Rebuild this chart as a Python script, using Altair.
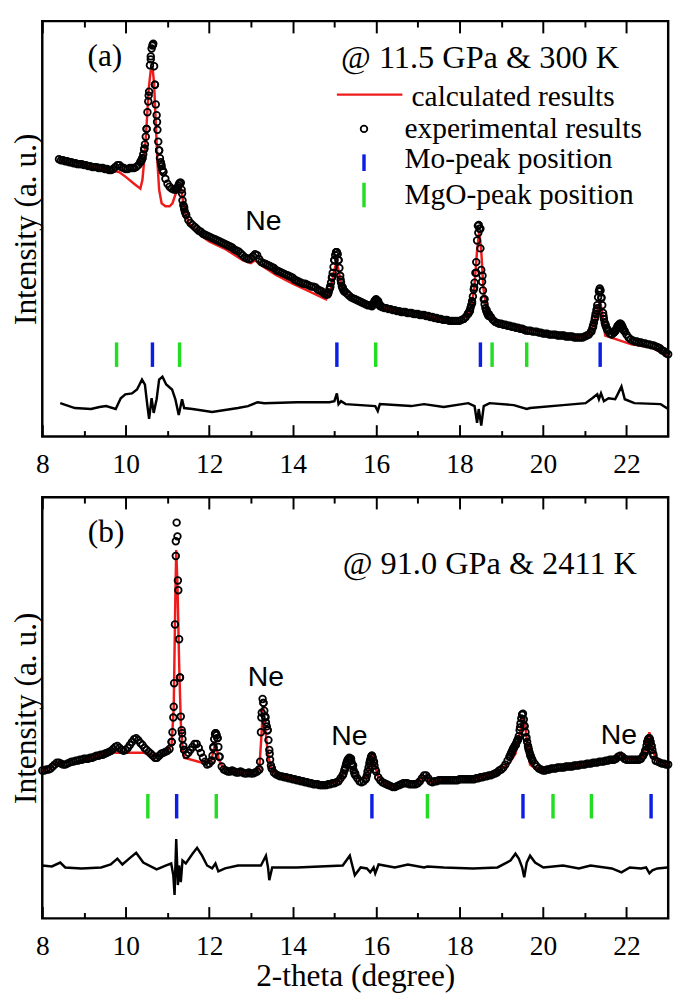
import altair as alt
import pandas as pd

SERIF = "Liberation Serif"
SANS = "Liberation Sans"
X_DOMAIN = [8, 23]
EVEN_TICKS = [8, 10, 12, 14, 16, 18, 20, 22]
ODD_TICKS = [9, 11, 13, 15, 17, 19, 21]
RED = "#ee1c1c"
BLUE = "#0a1ee6"
GREEN = "#22dd22"
BASE_STEP = 0.05
PEAK_STEP = 0.02

# ---------------- panel (a): 11.5 GPa & 300 K ----------------
A_EXP_START = 8.40
A_EXP = [
    283, 282, 282, 281, 281, 280, 280, 279, 279, 278, 278, 278,
    277, 277, 276, 276, 275, 275, 275, 274, 274, 274, 273, 273, 272, 272, 273, 275, 277, 277, 275, 274,
    273, 273, 274, 274, 274, 275, 277, 280, 284, 294, 314, 348, 385, 400, 359, 321, 292, 278, 270, 263,
    258, 255, 253, 252, 252, 254, 258, 248, 234, 226, 221, 218, 216, 214, 212, 210, 209, 207, 206, 205,
    204, 203, 202, 201, 200, 199, 198, 197, 196, 195, 194, 193, 191, 190, 189, 187, 185, 183, 182, 181,
    182, 184, 186, 185, 181, 178, 177, 176, 175, 174, 173, 172, 170, 169, 168, 167, 166, 165, 164, 163,
    162, 160, 159, 158, 157, 156, 156, 155, 154, 153, 153, 152, 150, 149, 148, 146, 145, 146, 152, 163,
    180, 188, 180, 160, 152, 148, 146, 144, 142, 141, 140, 139, 138, 137, 136, 135, 134, 134, 133, 136,
    139, 138, 134, 132, 131, 131, 130, 130, 129, 129, 128, 128, 127, 127, 127, 126, 126, 126, 125, 125,
    125, 124, 124, 124, 123, 123, 122, 122, 121, 121, 120, 120, 119, 119, 119, 118, 118, 118, 118, 118,
    118, 119, 120, 122, 125, 128, 136, 152, 167, 208, 212, 164, 140, 129, 125, 122, 119, 117, 116, 115,
    115, 114, 114, 113, 113, 112, 112, 111, 111, 110, 110, 109, 108, 108, 108, 107, 107, 107, 106, 106,
    105, 105, 105, 104, 104, 104, 104, 103, 103, 103, 103, 102, 102, 102, 102, 101, 101, 101, 101, 101,
    102, 103, 104, 107, 112, 122, 131, 149, 142, 123, 114, 109, 105, 104, 106, 109, 113, 114, 112, 108,
    104, 101, 99, 98, 97, 97, 96, 96, 95, 95, 94, 94, 93, 93, 92, 91, 90, 88, 87, 85,
    84,
]
A_PEAK_STARTS = [10.36, 11.20, 14.84, 15.92, 18.20, 21.16, 21.70]
A_PEAK_VALUES = [
    [281, 282, 284, 288, 293, 298, 306, 314, 331, 342, 352, 379, 388, 396, 399, 401,
     378, 359, 339, 328, 313, 301, 292, 284, 280, 276, 272, 270],
    [252, 253, 254, 256, 258, 259, 259, 252, 241, 236, 232, 229, 227],
    [145, 147, 150, 153, 157, 162, 167, 173, 180, 185, 188, 188, 186, 180, 172, 164,
     157, 153, 151, 149, 148],
    [134, 136, 138, 139, 140, 139, 138, 136, 134, 133],
    [125, 126, 128, 131, 134, 138, 143, 150, 157, 167, 178, 200, 215, 216, 212, 192,
     170, 158, 149, 140, 135, 131, 128, 126, 124, 123, 123],
    [107, 110, 113, 116, 120, 125, 129, 134, 142, 148, 151, 149, 141, 134, 126, 120,
     116, 113, 111, 109, 108],
    [106, 107, 108, 110, 112, 113, 114, 115, 115, 114, 112, 110, 108, 107],
]
A_CALC_X = [8.40, 8.80, 9.20, 9.60, 9.84, 10.00, 10.20, 10.35, 10.40, 10.45, 10.50, 10.55, 10.60,
            10.64, 10.68, 10.72, 10.76, 10.80, 10.86, 10.95, 11.05, 11.12, 11.19, 11.25, 11.30,
            11.34, 11.40, 11.50, 11.60, 11.80, 12.00, 12.40, 12.80, 13.00, 13.10, 13.20, 13.60,
            14.00, 14.40, 14.80, 14.90, 14.96, 15.00, 15.05, 15.10, 15.16, 15.25, 15.50, 15.90,
            16.00, 16.10, 16.50, 17.00, 17.50, 18.00, 18.20, 18.30, 18.36, 18.42, 18.47, 18.52,
            18.57, 18.65, 18.80, 19.20, 19.60, 20.00, 20.40, 20.80, 21.10, 21.22, 21.30, 21.37,
            21.44, 21.49, 22.12, 22.60, 23.00]
A_CALC_Y = [283, 279, 275, 272, 270, 265, 258, 253, 262, 285, 318, 355, 374,
            378, 360, 320, 280, 252, 238, 235, 235, 238, 247, 254, 257,
            250, 232, 219, 213, 205, 199, 191, 180, 177, 180, 176, 165,
            156, 148, 140, 148, 160, 170, 178, 170, 156, 147, 139, 133,
            138, 132, 128, 125, 120, 118, 124, 136, 155, 190, 209, 190,
            152, 130, 119, 113, 110, 107, 103, 101, 104, 114, 128, 138,
            120, 103, 94, 91, 82]
A_DIFF_X = [8.43, 8.78, 9.17, 9.37, 9.53, 9.76, 9.88, 9.99, 10.15, 10.27, 10.39, 10.46, 10.52,
            10.56, 10.62, 10.67, 10.74, 10.80, 10.88, 10.97, 11.11, 11.19, 11.27, 11.35, 11.40,
            11.60, 12.07, 12.69, 12.93, 13.16, 13.32, 14.10, 14.88, 15.00, 15.06, 15.10, 15.16,
            15.27, 15.98, 16.04, 16.09, 16.84, 17.15, 17.62, 18.21, 18.36, 18.42, 18.46, 18.52,
            18.58, 18.72, 19.30, 19.61, 19.69, 20.48, 21.02, 21.18, 21.30, 21.34, 21.39, 21.46,
            21.57, 21.73, 21.80, 21.88, 21.96, 22.19, 22.82, 23.00]
A_DIFF_Y = [34, 29, 28, 30, 31, 28, 39, 43, 44, 48, 58, 53, 31,
            18, 39, 24, 38, 58, 61, 53, 48, 38, 22, 38, 29,
            28, 25, 29, 31, 35, 34, 35, 35, 36, 44, 33, 36,
            33, 31, 26, 33, 31, 33, 30, 34, 31, 14, 28, 11,
            31, 34, 32, 28, 29, 32, 34, 39, 43, 38, 44, 36,
            39, 38, 44, 51, 38, 34, 33, 28]
A_MO = [10.64, 15.06, 18.50, 21.37]
A_MGO = [9.78, 11.29, 15.99, 18.78, 19.61]
A_MARK_LO, A_MARK_HI = 71, 96
A_Y_DOMAIN = [0, 424]

# ---------------- panel (b): 91.0 GPa & 2411 K ----------------
B_EXP_START = 8.00
B_EXP = [
    151, 151, 152, 152, 153, 155, 157, 159, 159, 158, 157, 157, 158, 159, 160, 160, 161, 161, 162, 162,
    163, 163, 163, 164, 164, 165, 166, 166, 167, 167, 168, 169, 170, 171, 173, 175, 176, 174, 172, 171,
    172, 174, 177, 180, 183, 184, 182, 179, 177, 174, 172, 170, 168, 166, 164, 164, 166, 168, 169, 170,
    171, 173, 180, 216, 385, 345, 246, 189, 172, 167, 169, 172, 175, 178, 178, 174, 169, 164, 160, 157,
    158, 161, 175, 189, 184, 165, 155, 152, 151, 150, 150, 151, 150, 149, 149, 150, 149, 148, 148, 149,
    148, 148, 149, 150, 152, 205, 220, 205, 192, 168, 153, 149, 147, 146, 145, 145, 144, 144, 143, 143,
    142, 142, 141, 141, 140, 140, 139, 139, 138, 138, 137, 137, 137, 136, 136, 136, 136, 137, 137, 138,
    138, 139, 140, 143, 146, 152, 159, 163, 163, 156, 148, 143, 140, 139, 140, 142, 150, 160, 166, 160,
    150, 144, 141, 139, 138, 137, 136, 135, 134, 134, 135, 136, 137, 138, 138, 138, 137, 137, 137, 137,
    138, 140, 143, 146, 146, 143, 140, 139, 140, 140, 141, 141, 141, 141, 141, 141, 141, 141, 141, 141,
    142, 142, 142, 142, 142, 142, 142, 142, 143, 143, 144, 144, 145, 145, 146, 146, 147, 148, 149, 151,
    152, 154, 157, 161, 165, 169, 174, 177, 182, 195, 208, 197, 184, 174, 166, 161, 158, 155, 153, 152,
    151, 151, 152, 152, 153, 153, 153, 154, 154, 154, 154, 155, 155, 155, 155, 156, 156, 156, 157, 157,
    157, 158, 158, 158, 159, 159, 159, 160, 160, 160, 161, 161, 162, 162, 162, 163, 165, 166, 165, 163,
    162, 162, 162, 162, 162, 162, 162, 163, 166, 171, 180, 184, 176, 166, 161, 160, 159, 158, 158, 157,
    157,
]
B_PEAK_STARTS = [11.10, 12.06, 13.20, 15.20, 15.76, 19.20, 22.44]
B_PEAK_VALUES = [
    [180, 190, 205, 240, 300, 370, 404, 390, 335, 285, 246, 206, 192, 183, 176, 172],
    [161, 166, 174, 183, 188, 189, 187, 184, 175, 165],
    [152, 160, 190, 210, 224, 220, 212, 206, 200, 196, 192, 182, 172, 162, 156, 153],
    [146, 148, 151, 154, 157, 160, 162, 163, 164, 163, 161, 158, 155, 151, 148, 146],
    [143, 146, 150, 154, 158, 162, 165, 166, 164, 160, 156, 152],
    [165, 167, 169, 171, 173, 174, 176, 177, 179, 181, 183, 186, 192, 199, 204, 208,
     209, 203, 196, 190, 185, 180, 176, 172, 169, 166, 164, 162],
    [169, 172, 176, 180, 183, 184, 183, 180, 176, 172, 168],
]
B_CALC_X = [8.00, 8.40, 8.80, 9.20, 9.60, 9.78, 10.43, 10.60, 10.80, 11.00, 11.10, 11.15, 11.19,
            11.21, 11.24, 11.28, 11.32, 11.36, 11.40, 11.83, 12.05, 12.15, 12.23, 12.35, 12.70,
            13.00, 13.20, 13.25, 13.29, 13.33, 13.40, 13.47, 13.60, 14.10, 14.70, 15.10, 15.20,
            15.30, 15.40, 15.46, 15.52, 15.60, 15.78, 15.86, 15.90, 15.96, 16.05, 16.20, 16.45,
            16.76, 17.00, 17.19, 17.31, 17.62, 18.40, 18.90, 19.20, 19.34, 19.45, 19.52, 19.55,
            19.62, 19.69, 19.75, 19.85, 20.01, 20.50, 21.00, 21.50, 21.75, 21.88, 22.00, 22.35,
            22.47, 22.55, 22.62, 22.70, 23.00]
B_CALC_Y = [151, 159, 160, 164, 170, 169, 169, 167, 166, 171, 178, 215, 330,
            376, 340, 260, 200, 175, 164, 159, 161, 180, 162, 152, 149,
            148, 152, 185, 216, 200, 170, 155, 147, 141, 136, 140, 147,
            152, 158, 163, 152, 142, 144, 162, 166, 158, 144, 138, 134,
            138, 138, 146, 139, 141, 143, 149, 159, 168, 190, 205, 205,
            180, 157, 155, 153, 151, 154, 157, 161, 163, 169, 163, 163,
            172, 190, 174, 162, 157]
B_DIFF_X = [8.00, 8.23, 8.43, 8.55, 8.94, 9.41, 9.64, 9.80, 9.92, 10.11, 10.25, 10.42, 10.74,
            10.97, 11.09, 11.14, 11.17, 11.21, 11.25, 11.28, 11.32, 11.36, 11.44, 11.60, 11.71,
            11.83, 11.95, 12.07, 12.15, 12.22, 12.38, 12.69, 13.00, 13.24, 13.36, 13.41, 13.44,
            13.51, 14.10, 15.20, 15.37, 15.43, 15.49, 15.63, 15.78, 15.86, 15.94, 15.98, 16.06,
            16.45, 16.76, 17.15, 17.23, 17.62, 18.32, 18.91, 19.22, 19.34, 19.42, 19.50, 19.55,
            19.61, 19.69, 19.81, 20.01, 20.48, 20.86, 21.14, 21.65, 21.88, 22.08, 22.35, 22.47,
            22.55, 22.62, 22.74, 22.98]
B_DIFF_Y = [54, 53, 57, 52, 51, 52, 55, 61, 55, 62, 67, 57, 50,
            54, 56, 44, 24, 81, 34, 54, 37, 59, 56, 66, 72,
            64, 54, 51, 56, 48, 51, 54, 54, 54, 64, 52, 39,
            52, 52, 54, 64, 54, 44, 52, 51, 47, 52, 46, 55,
            52, 55, 52, 53, 52, 51, 52, 59, 66, 61, 52, 42,
            57, 64, 57, 52, 54, 51, 54, 51, 47, 52, 51, 52,
            46, 49, 51, 52]
B_MO = [11.22, 15.90, 19.52, 22.59]
B_MGO = [10.53, 12.17, 17.23, 20.24, 21.16]
B_MARK_LO, B_MARK_HI = 102, 127
B_Y_DOMAIN = [0, 430]

# ---------------- annotations ----------------
A_LABELS = [("(a)", 9.50, 388, 32, "center"), ("@ 11.5 GPa & 300 K", 15.16, 386, 33, "left")]
B_LABELS = [("(b)", 9.53, 394, 32, "center"), ("@ 91.0 GPa & 2411 K", 15.20, 362, 33, "left")]
A_NE = [(13.30, 220)]
B_NE = [(13.36, 246), (15.36, 186), (21.82, 187)]
LEGEND_TEXT = ["calculated results", "experimental results", "Mo-peak position", "MgO-peak position"]
LEGEND_TEXT_X = [16.85, 16.68, 16.68, 16.68]
LEGEND_TEXT_Y = [346, 314, 283, 246]
LEGEND_LINE_X = [15.06, 16.63]
LEGEND_LINE_Y = 349
LEGEND_SYMBOL_X = 15.71
LEGEND_CIRCLE_Y = 314
LEGEND_MO_Y = (271, 288)
LEGEND_MGO_Y = (234, 259)

WIDTH = 639


def grid(start, step, values):
    return [(round(start + i * step, 3), v) for i, v in enumerate(values)]


def exp_frame(start, values, peak_starts, peak_values):
    pts = grid(start, BASE_STEP, values)
    for s, vals in zip(peak_starts, peak_values):
        pts += grid(s, PEAK_STEP, vals)
    return pd.DataFrame(pts, columns=["x", "y"])


XS = alt.Scale(domain=X_DOMAIN, nice=False, zero=False)


def tick_axis(orient, values, size):
    return alt.Axis(orient=orient, values=values, labels=False, domain=False, grid=False,
                    ticks=True, tickSize=size, tickWidth=2, tickColor="black", offset=-size)


def circles(df, x, y):
    return alt.Chart(df).mark_point(shape="circle", filled=False, color="black",
                                    strokeWidth=1.8, size=46, opacity=1).encode(x=x, y=y)


def panel(exp_df, calc_x, calc_y, diff_x, diff_y, mo, mgo, lo, hi, ydom, height,
          labels, ne, xtitle, legend):
    ys = alt.Scale(domain=ydom, nice=False, zero=False)
    y_none = alt.Y("y:Q", scale=ys, axis=None)
    label_axis = alt.Axis(orient="bottom", values=EVEN_TICKS, format="d", ticks=False,
                          domain=False, grid=False, labelFont=SERIF, labelFontSize=28,
                          labelColor="black", labelPadding=15, labelFlush=False,
                          titleFont=SERIF, titleFontSize=32, titleFontWeight="normal",
                          titleColor="black", titleY=59, titleBaseline="middle")
    y_axis = alt.Axis(labels=False, ticks=False, domain=False, grid=False,
                      title="Intensity (a. u.)", titleFont=SERIF, titleFontSize=32,
                      titleFontWeight="normal", titleColor="black", titlePadding=0)

    calc_df = pd.DataFrame({"x": calc_x, "y": calc_y})
    diff_df = pd.DataFrame({"x": diff_x, "y": diff_y})
    mo_df = pd.DataFrame({"x": mo, "lo": [lo] * len(mo), "hi": [hi] * len(mo)})
    mgo_df = pd.DataFrame({"x": mgo, "lo": [lo] * len(mgo), "hi": [hi] * len(mgo)})

    calc = alt.Chart(calc_df).mark_line(color=RED, strokeWidth=2.5).encode(
        x=alt.X("x:Q", scale=XS, axis=tick_axis("bottom", EVEN_TICKS, 12), title=None),
        y=y_none)
    if xtitle:
        xenc = alt.X("x:Q", scale=XS, axis=label_axis, title=xtitle)
    else:
        xenc = alt.X("x:Q", scale=XS, axis=label_axis, title=None)
    exp = circles(exp_df, xenc, alt.Y("y:Q", scale=ys, axis=y_axis))
    diff = alt.Chart(diff_df).mark_line(color="black", strokeWidth=2.5).encode(
        x=alt.X("x:Q", scale=XS, axis=tick_axis("bottom", ODD_TICKS, 6), title=None),
        y=y_none)
    mo_rules = alt.Chart(mo_df).mark_rule(color=BLUE, strokeWidth=3.5).encode(
        x=alt.X("x:Q", scale=XS, axis=tick_axis("top", EVEN_TICKS, 12), title=None),
        y=alt.Y("lo:Q", scale=ys, axis=None), y2="hi:Q")
    mgo_rules = alt.Chart(mgo_df).mark_rule(color=GREEN, strokeWidth=3.5).encode(
        x=alt.X("x:Q", scale=XS, axis=tick_axis("top", ODD_TICKS, 6), title=None),
        y=alt.Y("lo:Q", scale=ys, axis=None), y2="hi:Q")

    layers = [calc, exp, diff, mo_rules, mgo_rules]
    for text, tx, ty, size, align in labels:
        tdf = pd.DataFrame({"x": [tx], "y": [ty], "t": [text]})
        layers.append(alt.Chart(tdf).mark_text(font=SERIF, fontSize=size, align=align,
                                               baseline="middle", color="black").encode(
            x=alt.X("x:Q", scale=XS, axis=None), y=y_none, text="t:N"))
    ne_df = pd.DataFrame({"x": [p[0] for p in ne], "y": [p[1] for p in ne],
                          "t": ["Ne"] * len(ne)})
    layers.append(alt.Chart(ne_df).mark_text(font=SANS, fontSize=29, align="center",
                                             baseline="middle", color="black").encode(
        x=alt.X("x:Q", scale=XS, axis=None), y=y_none, text="t:N"))
    layers += legend(ys)
    return alt.layer(*layers).resolve_axis(x="independent", y="independent").properties(
        width=WIDTH, height=height)


def legend_a(ys):
    y_none = alt.Y("y:Q", scale=ys, axis=None)
    line_df = pd.DataFrame({"x": LEGEND_LINE_X, "y": [LEGEND_LINE_Y] * 2})
    circ_df = pd.DataFrame({"x": [LEGEND_SYMBOL_X], "y": [LEGEND_CIRCLE_Y]})
    mo_df = pd.DataFrame({"x": [LEGEND_SYMBOL_X], "lo": [LEGEND_MO_Y[0]], "hi": [LEGEND_MO_Y[1]]})
    mgo_df = pd.DataFrame({"x": [LEGEND_SYMBOL_X], "lo": [LEGEND_MGO_Y[0]], "hi": [LEGEND_MGO_Y[1]]})
    txt_df = pd.DataFrame({"x": LEGEND_TEXT_X, "y": LEGEND_TEXT_Y, "t": LEGEND_TEXT})
    xn = alt.X("x:Q", scale=XS, axis=None)
    return [
        alt.Chart(line_df).mark_line(color=RED, strokeWidth=2.5).encode(x=xn, y=y_none),
        circles(circ_df, xn, y_none),
        alt.Chart(mo_df).mark_rule(color=BLUE, strokeWidth=3.5).encode(
            x=xn, y=alt.Y("lo:Q", scale=ys, axis=None), y2="hi:Q"),
        alt.Chart(mgo_df).mark_rule(color=GREEN, strokeWidth=3.5).encode(
            x=xn, y=alt.Y("lo:Q", scale=ys, axis=None), y2="hi:Q"),
        alt.Chart(txt_df).mark_text(font=SERIF, fontSize=30, align="left", baseline="middle",
                                    color="black").encode(x=xn, y=y_none, text="t:N"),
    ]


def no_legend(ys):
    return []


top = panel(exp_frame(A_EXP_START, A_EXP, A_PEAK_STARTS, A_PEAK_VALUES),
            A_CALC_X, A_CALC_Y, A_DIFF_X, A_DIFF_Y, A_MO, A_MGO, A_MARK_LO, A_MARK_HI,
            A_Y_DOMAIN, 424, A_LABELS, A_NE, None, legend_a)
bottom = panel(exp_frame(B_EXP_START, B_EXP, B_PEAK_STARTS, B_PEAK_VALUES),
               B_CALC_X, B_CALC_Y, B_DIFF_X, B_DIFF_Y, B_MO, B_MGO, B_MARK_LO, B_MARK_HI,
               B_Y_DOMAIN, 430, B_LABELS, B_NE, "2-theta (degree)", no_legend)

chart = alt.vconcat(top, bottom, spacing=14).properties(padding=0).configure_view(
    stroke="black", strokeWidth=2.5)

chart.save("out.html", embed_options={"renderer": "svg", "actions": False})
